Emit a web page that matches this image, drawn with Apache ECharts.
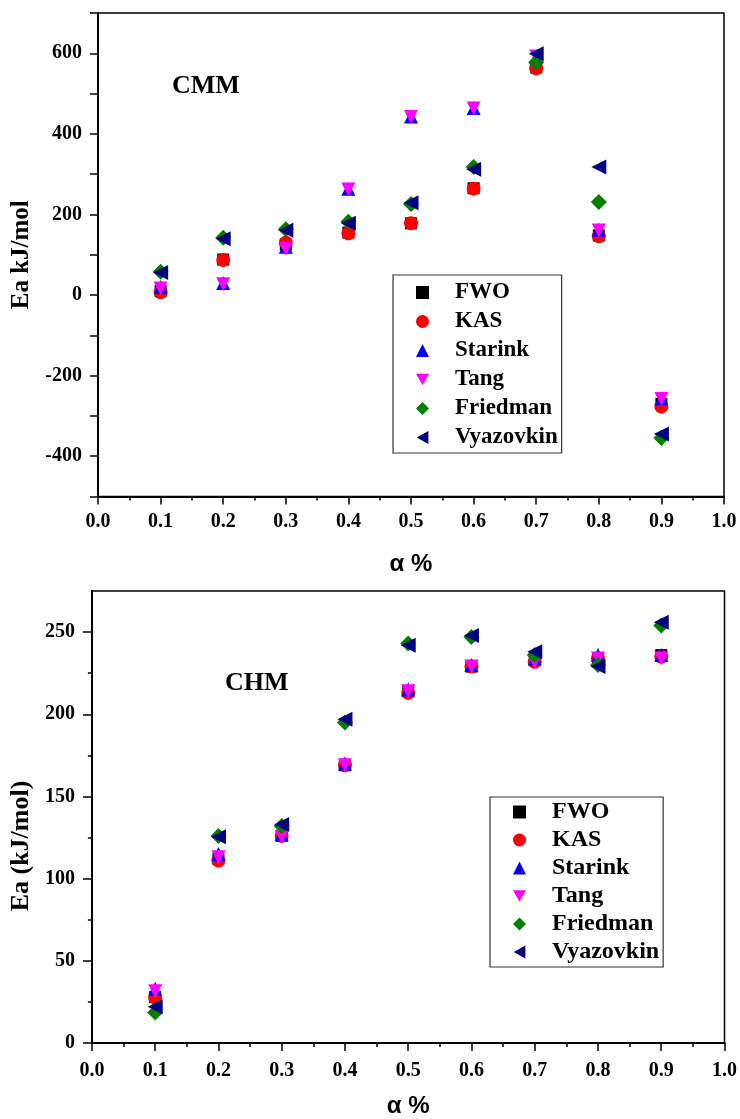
<!DOCTYPE html>
<html>
<head>
<meta charset="utf-8">
<script src="https://cdn.jsdelivr.net/npm/echarts@6/dist/echarts.min.js"></script>
<style>
  html, body { margin: 0; padding: 0; background: #fff; }
  #chart { width: 740px; height: 1119px; }
</style>
</head>
<body>
<div id="chart"></div>
<script>
// conversion fraction (x axis)
const alpha = [0.1, 0.2, 0.3, 0.4, 0.5, 0.6, 0.7, 0.8, 0.9]
const methods = ['FWO', 'KAS', 'Starink', 'Tang', 'Friedman', 'Vyazovkin']

// CMM, Ea kJ/mol
const cmmFWO = [10, 88, 125, 155, 178, 265, 565, 148, -270]
const cmmKAS = [7, 87, 130, 153, 178, 264, 563, 146, -277]
const cmmStarink = [20, 30, 120, 264, 443, 464, 590, 162, -256]
const cmmTang = [16, 27, 115, 262, 442, 463, 592, 160, -258]
const cmmFriedman = [58, 142, 163, 182, 226, 318, 578, 231, -355]
const cmmVyazovkin = [56, 140, 161, 178, 229, 312, 599, 318, -345]

// CHM, Ea (kJ/mol)
const chmFWO = [28, 112, 126, 169, 214, 229, 233, 234, 236]
const chmKAS = [27.5, 111, 126, 169, 213, 229, 232, 234, 235]
const chmStarink = [33, 115, 127, 170, 215, 230, 234, 236, 236]
const chmTang = [31.5, 113, 125.5, 169, 214, 229, 232, 234, 234]
const chmFriedman = [18.5, 126, 132, 195, 243, 247, 236, 230, 254]
const chmVyazovkin = [22, 125.5, 133, 197, 242, 248, 238, 229, 256]

// tick labels
const cmmYLabels = [-400, -200, 0, 200, 400, 600]
const chmYLabels = [0, 50, 100, 150, 200, 250]
const chmYMinor = [25, 75, 125, 175, 225]

const serif = 'Liberation Serif'
const sans = 'Liberation Sans'
const colors = ['#000000', '#ff0000', '#0000ff', '#ff00ff', '#008000', '#000080']
const symbols = ['rect', 'circle', 'triangle', 'triangle', 'diamond', 'triangle']
const rotates = [0, 0, 0, 180, 0, 90]
const sizes = [12, 14, 14, 14, 16, 15]

// legend icons (legend does not pick up the rotation)
const legendIcons = [
  'path://M0,0 L10,0 L10,10 L0,10 Z',
  'circle',
  'triangle',
  'path://M0,0 L10,0 L5,9 Z',
  'path://M5,0 L10,5 L5,10 L0,5 Z',
  'path://M9,0 L9,10 L0,5 Z'
]

const cmmData = [cmmFWO, cmmKAS, cmmStarink, cmmTang, cmmFriedman, cmmVyazovkin]
const chmData = [chmFWO, chmKAS, chmStarink, chmTang, chmFriedman, chmVyazovkin]

function makeSeries(sets, axisIndex) {
  return sets.map((vals, i) => ({
    name: methods[i],
    type: 'scatter',
    xAxisIndex: axisIndex,
    yAxisIndex: axisIndex === 0 ? 0 : 1,
    symbol: symbols[i],
    symbolRotate: rotates[i],
    symbolSize: sizes[i],
    itemStyle: { color: colors[i], opacity: 1 },
    data: vals.map((v, j) => [alpha[j], v])
  }))
}

function xAxis(gridIndex, gap, margin) {
  return {
    type: 'value',
    gridIndex,
    min: 0,
    max: 1,
    interval: 0.1,
    name: 'α %',
    nameLocation: 'middle',
    nameGap: gap,
    nameTextStyle: { fontFamily: sans, fontWeight: 'bold', fontSize: 24, color: '#000' },
    axisLine: { onZero: false, lineStyle: { color: '#000', width: 2 } },
    axisTick: { length: 8, lineStyle: { color: '#000', width: 1.5 } },
    minorTick: { show: true, splitNumber: 2, length: 4, lineStyle: { color: '#000', width: 1.5 } },
    splitLine: { show: false },
    axisLabel: {
      margin,
      fontFamily: serif, fontWeight: 'bold', fontSize: 20, color: '#000',
      formatter: v => v.toFixed(1)
    }
  }
}

function legend(left, top, gap, pad, size) {
  return {
    orient: 'vertical',
    left,
    top,
    data: methods.map((m, i) => ({ name: m, icon: legendIcons[i] })),
    itemWidth: 13,
    itemHeight: 13,
    itemGap: gap,
    padding: pad,
    borderColor: '#333',
    borderWidth: 1.2,
    selectedMode: false,
    textStyle: {
      fontFamily: serif, fontWeight: 'bold', fontSize: size, color: '#000',
      lineHeight: 23, padding: [0, 0, 0, 21]
    }
  }
}

const option = {
  backgroundColor: '#fff',
  animation: false,
  grid: [
    { left: 98, right: 16, top: 13, height: 483.5, show: true, borderColor: '#000', borderWidth: 1.5 },
    { left: 89.5, right: 10.5, top: 591, height: 454, show: true, borderColor: '#000', borderWidth: 1.5 }
  ],
  xAxis: [xAxis(0, 56, 15), xAxis(1, 51, 18)],
  yAxis: [
    {
      type: 'value',
      gridIndex: 0,
      min: -500,
      max: 700,
      interval: 100,
      name: 'Ea kJ/mol',
      nameLocation: 'middle',
      nameGap: 61,
      nameTextStyle: { fontFamily: serif, fontWeight: 'bold', fontSize: 25, color: '#000' },
      axisLine: { onZero: false, lineStyle: { color: '#000', width: 2 } },
      axisTick: { length: 8, lineStyle: { color: '#000', width: 1.5 } },
      splitLine: { show: false },
      axisLabel: {
        margin: 16,
        customValues: cmmYLabels,
        fontFamily: serif, fontWeight: 'bold', fontSize: 20, color: '#000'
      }
    },
    {
      type: 'value',
      gridIndex: 1,
      position: 'left',
      min: 0,
      max: 275,
      name: 'Ea (kJ/mol)',
      nameLocation: 'middle',
      nameGap: 54,
      nameTextStyle: {
        fontFamily: serif, fontWeight: 'bold', fontSize: 26, color: '#000',
        padding: [0, 58, 0, 0]
      },
      axisLine: { onZero: false, lineStyle: { color: '#000', width: 2 } },
      axisTick: { length: 9, customValues: chmYLabels, lineStyle: { color: '#000', width: 1.5 } },
      splitLine: { show: false },
      axisLabel: {
        margin: 17,
        customValues: chmYLabels,
        fontFamily: serif, fontWeight: 'bold', fontSize: 20, color: '#000'
      }
    },
    {
      // minor ticks of the CHM axis
      type: 'value',
      gridIndex: 1,
      position: 'left',
      offset: 0,
      min: 0,
      max: 275,
      axisLine: { show: false, onZero: false },
      axisTick: { length: 4, customValues: chmYMinor, lineStyle: { color: '#000', width: 1.5 } },
      axisLabel: { show: false },
      splitLine: { show: false }
    }
  ],
  legend: [
    legend(393, 275, 6, [6, 4, 4, 23], 23),
    legend(490, 797, 4, [3, 4, 3, 23], 24)
  ],
  graphic: [
    {
      type: 'text', left: 172, top: 73,
      style: { text: 'CMM', font: 'bold 26px "Liberation Serif"', fill: '#000' }
    },
    {
      type: 'text', left: 225, top: 670,
      style: { text: 'CHM', font: 'bold 26px "Liberation Serif"', fill: '#000' }
    }
  ],
  series: [...makeSeries(cmmData, 0), ...makeSeries(chmData, 1)]
}

const chart = echarts.init(document.getElementById('chart'))
chart.setOption(option)
</script>
</body>
</html>
